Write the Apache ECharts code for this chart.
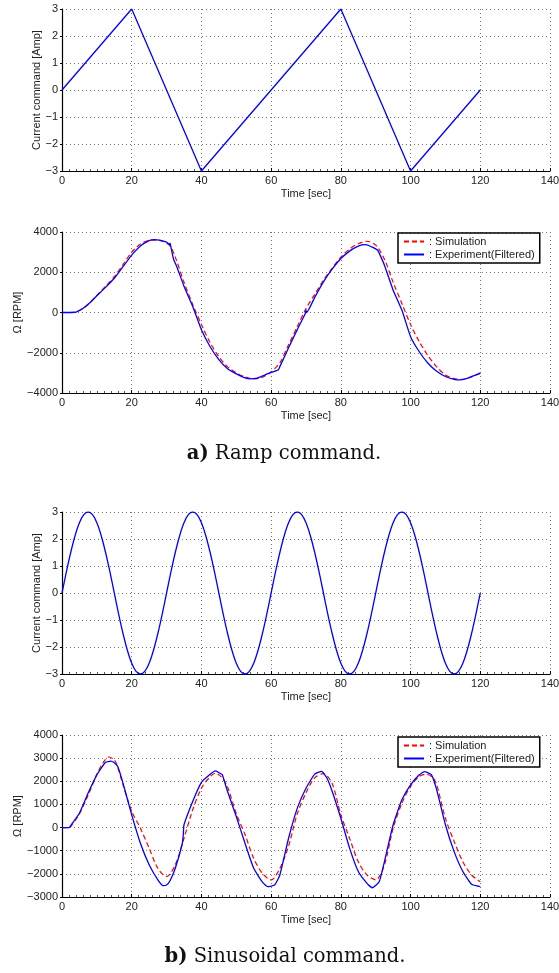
<!DOCTYPE html>
<html>
<head>
<meta charset="utf-8">
<script src="https://cdn.jsdelivr.net/npm/echarts@6/dist/echarts.min.js"></script>
<style>html,body{margin:0;padding:0;background:#fff}#c{width:559px;height:973px}</style>
</head>
<body>
<div id="c"></div>
<script>
// ---------- DATA ----------
const xTicks = [0, 20, 40, 60, 80, 100, 120, 140];

// a) Ramp command (current command, Amp)
const rampCmdTime  = [0, 20, 40, 80, 100, 120];
const rampCmdValue = [0, 3, -3, 3, -3, 0];

// a) Ramp response (RPM)
const rampSimTime  = [0,2,4,6,8,10,12.5,15,17.5,20,22.5,25,27,29,31,32.5,35,37.5,40,42.5,45,47.5,50,52.5,55,57.5,60,62.5,65,67.5,70,72.5,75,77.5,80,82.5,85,87.5,90,92.5,95,97.5,100,102.5,105,107.5,110,112.5,115,117.5,120];
const rampSimValue = [0,0,30,200,480,850,1300,1780,2380,3000,3400,3580,3600,3530,3300,2750,1500,400,-600,-1500,-2200,-2700,-3000,-3200,-3300,-3220,-2950,-2500,-1600,-700,200,900,1600,2200,2750,3150,3420,3540,3350,2650,1500,450,-600,-1450,-2150,-2700,-3100,-3280,-3320,-3200,-3000];

const rampExpTime  = [0,2,4,6,8,10,12.5,15,17.5,20,22.5,25,26.5,28,30,30.8,31,31.2,32,33,35,37.5,40,42.5,45,47.5,50,52.5,54,56,58,60,62,62.5,65,67.5,69.8,70,70.2,72.5,75,77.5,80,82.5,85,87,89,90.5,91,92.5,95,97.5,100,102.5,105,107.5,110,112.5,114,116,118,120];
const rampExpValue = [0,0,20,200,480,830,1250,1700,2280,2850,3300,3570,3620,3600,3500,3380,3450,3300,2650,2250,1300,300,-860,-1700,-2340,-2800,-3050,-3250,-3300,-3260,-3120,-2980,-2860,-2690,-1750,-850,-50,120,0,750,1525,2150,2680,3050,3300,3370,3250,3100,2950,2350,1110,120,-1200,-1950,-2520,-2920,-3180,-3320,-3350,-3290,-3150,-3020];

// b) Sinusoidal command (current command, Amp)
const sineCmdTime  = [0,1.25,2.5,3.75,5,6.25,7.5,8.75,10,11.25,12.5,13.75,15,16.25,17.5,18.75,20,21.25,22.5,23.75,25,26.25,27.5,28.75,30,31.25,32.5,33.75,35,36.25,37.5,38.75,40,41.25,42.5,43.75,45,46.25,47.5,48.75,50,51.25,52.5,53.75,55,56.25,57.5,58.75,60,61.25,62.5,63.75,65,66.25,67.5,68.75,70,71.25,72.5,73.75,75,76.25,77.5,78.75,80,81.25,82.5,83.75,85,86.25,87.5,88.75,90,91.25,92.5,93.75,95,96.25,97.5,98.75,100,101.25,102.5,103.75,105,106.25,107.5,108.75,110,111.25,112.5,113.75,115,116.25,117.5,118.75,120];
const sineCmdValue = [0,0.78,1.5,2.12,2.6,2.9,3,2.9,2.6,2.12,1.5,0.78,0,-0.78,-1.5,-2.12,-2.6,-2.9,-3,-2.9,-2.6,-2.12,-1.5,-0.78,
                      0,0.78,1.5,2.12,2.6,2.9,3,2.9,2.6,2.12,1.5,0.78,0,-0.78,-1.5,-2.12,-2.6,-2.9,-3,-2.9,-2.6,-2.12,-1.5,-0.78,
                      0,0.78,1.5,2.12,2.6,2.9,3,2.9,2.6,2.12,1.5,0.78,0,-0.78,-1.5,-2.12,-2.6,-2.9,-3,-2.9,-2.6,-2.12,-1.5,-0.78,
                      0,0.78,1.5,2.12,2.6,2.9,3,2.9,2.6,2.12,1.5,0.78,0,-0.78,-1.5,-2.12,-2.6,-2.9,-3,-2.9,-2.6,-2.12,-1.5,-0.78,0];

// b) Sinusoidal response (RPM)
const sineSimTime  = [0,2,3,5,7.5,10,12,13.5,15,16,17.5,20,22.5,25,27.5,30,32.5,35,37.5,40,42.5,44,46,47.5,50,52.5,55,57.5,60,62.5,65,67.5,70,72.5,75,77.5,80,82.5,85,87.5,90,92.5,95,97.5,100,102.5,104.5,106.5,107.5,110,112.5,115,117.5,120];
const sineSimValue = [0,0,150,600,1400,2300,2850,3050,2930,2600,1850,700,-30,-890,-1760,-2120,-1610,-460,770,1700,2200,2350,2140,1750,600,-300,-1330,-1980,-2260,-1760,-800,600,1500,2150,2330,1900,550,-460,-1480,-2050,-2260,-1610,-30,1050,1780,2210,2310,2140,1850,400,-600,-1480,-2050,-2340];

const sineExpTime  = [0,2,3,5,7.5,10,12.5,14,15,16,17.5,20,22.5,25,27.5,29,30,31,32.5,34.5,34.8,35,37.5,40,42.5,44,45.5,46,47.5,50,52.5,55,57.5,59,61,62.5,65,67.5,70,72.5,74.5,76,77.5,80,82.5,85,87.5,89,91,92.5,95,97.5,100,102.5,104,106,107.5,110,112.5,115,117.5,120];
const sineExpValue = [0,0,190,620,1490,2280,2820,2870,2800,2640,1920,550,-680,-1610,-2260,-2510,-2480,-2300,-1760,-700,-300,120,1130,1950,2300,2450,2330,2280,1560,480,-680,-1760,-2360,-2550,-2480,-2050,-460,840,1700,2310,2430,2140,1570,400,-890,-1900,-2410,-2600,-2340,-1470,120,1200,1850,2280,2420,2280,1630,120,-1040,-1900,-2450,-2550];

const seriesNames = ['Simulation', 'Experiment(Filtered)'];
const captionA = ['a)', ' Ramp command.'];
const captionB = ['b)', ' Sinusoidal command.'];

// ---------- CHART ----------
const zip = (t, v) => t.map((x, i) => [x, v[i]]);
const FF = 'Liberation Sans';
const TXT = '#222';
const minusFmt = v => String(v).replace('-', '\u2212');

const grids = [
  {left: 62, top: 9,   width: 488, height: 162, outerBoundsMode: 'none', containLabel: false},
  {left: 62, top: 232, width: 488, height: 161, outerBoundsMode: 'none', containLabel: false},
  {left: 62, top: 512, width: 488, height: 162, outerBoundsMode: 'none', containLabel: false},
  {left: 62, top: 735, width: 488, height: 162, outerBoundsMode: 'none', containLabel: false}
];

function mkX(gi) {
  return {
    type: 'value', gridIndex: gi, min: xTicks[0], max: xTicks[xTicks.length - 1], interval: 20,
    name: 'Time [sec]', nameLocation: 'middle', nameGap: 17, nameMoveOverlap: false,
    nameTextStyle: {fontSize: 11, color: TXT, fontFamily: FF},
    axisLine: {show: true, onZero: false, lineStyle: {color: '#000', width: 1.2}},
    axisTick: {show: true, inside: true, length: 3, lineStyle: {color: '#000'}},
    minorTick: {show: true, splitNumber: 10, length: 2, lineStyle: {color: '#555'}},
    splitLine: {show: true, lineStyle: {color: '#777', type: [1, 3], width: 1}},
    axisLabel: {fontSize: 11, color: TXT, fontFamily: FF, margin: 4}
  };
}
function mkY(gi, min, max, interval, name, gap) {
  return {
    type: 'value', gridIndex: gi, min, max, interval,
    name, nameLocation: 'middle', nameGap: gap, nameMoveOverlap: false,
    nameTextStyle: {fontSize: 11, color: TXT, fontFamily: FF},
    axisLine: {show: true, onZero: false, lineStyle: {color: '#000', width: 1.2}},
    axisTick: {show: true, inside: false, length: 2, lineStyle: {color: '#000'}},
    splitLine: {show: true, lineStyle: {color: '#777', type: [1, 3], width: 1}},
    axisLabel: {fontSize: 11, color: TXT, fontFamily: FF, margin: 4, formatter: minusFmt}
  };
}

const blue = '#0000ff', red = '#ff0000';
function lineS(name, gi, data, color, dashed, z, smooth) {
  return {
    name, type: 'line', xAxisIndex: gi, yAxisIndex: gi, data,
    symbol: 'none', smooth: smooth || false, z,
    lineStyle: {color, width: dashed ? 1.2 : 1.3, type: dashed ? [5, 3] : 'solid'},
    itemStyle: {color},
    emphasis: {disabled: true}
  };
}

function mkLegend(top) {
  return {
    orient: 'vertical', left: 398, top, data: seriesNames,
    padding: [3, 5, 3, 5], itemGap: 2, itemWidth: 20, itemHeight: 11,
    borderColor: '#000', borderWidth: 1.5, backgroundColor: '#fff',
    formatter: ': {name}',
    itemStyle: {opacity: 0},
    textStyle: {fontSize: 11, color: TXT, fontFamily: FF},
    selectedMode: false
  };
}

const capRich = {
  b: {fontFamily: 'DejaVu Serif', fontWeight: 'bold', fontSize: 19.5, fill: '#111'},
  n: {fontFamily: 'DejaVu Serif', fontSize: 19.5, fill: '#111'}
};

const option = {
  animation: false,
  backgroundColor: '#fff',
  grid: grids,
  xAxis: [mkX(0), mkX(1), mkX(2), mkX(3)],
  yAxis: [
    mkY(0, -3, 3, 1, 'Current command [Amp]', 20),
    mkY(1, -4000, 4000, 2000, '\u03A9 [RPM]', 39),
    mkY(2, -3, 3, 1, 'Current command [Amp]', 20),
    mkY(3, -3000, 4000, 1000, '\u03A9 [RPM]', 39)
  ],
  legend: [mkLegend(233), mkLegend(737)],
  series: [
    lineS('Current', 0, zip(rampCmdTime, rampCmdValue), blue, false, 3),
    lineS(seriesNames[0], 1, zip(rampSimTime, rampSimValue), red, true, 2, 0.3),
    lineS(seriesNames[1], 1, zip(rampExpTime, rampExpValue), blue, false, 3, 0.15),
    lineS('Current2', 2, zip(sineCmdTime, sineCmdValue), blue, false, 3, 0.3),
    lineS(seriesNames[0], 3, zip(sineSimTime, sineSimValue), red, true, 2, 0.3),
    lineS(seriesNames[1], 3, zip(sineExpTime, sineExpValue), blue, false, 3, 0.15)
  ],
  graphic: [
    {type: 'text', x: 284, y: 444, style: {text: '{b|' + captionA[0] + '}{n|' + captionA[1] + '}', rich: capRich, align: 'center', verticalAlign: 'top'}},
    {type: 'text', x: 285, y: 947, style: {text: '{b|' + captionB[0] + '}{n|' + captionB[1] + '}', rich: capRich, align: 'center', verticalAlign: 'top'}}
  ]
};

const chart = echarts.init(document.getElementById('c'), null, {renderer: 'canvas'});
chart.setOption(option);
</script>
</body>
</html>
